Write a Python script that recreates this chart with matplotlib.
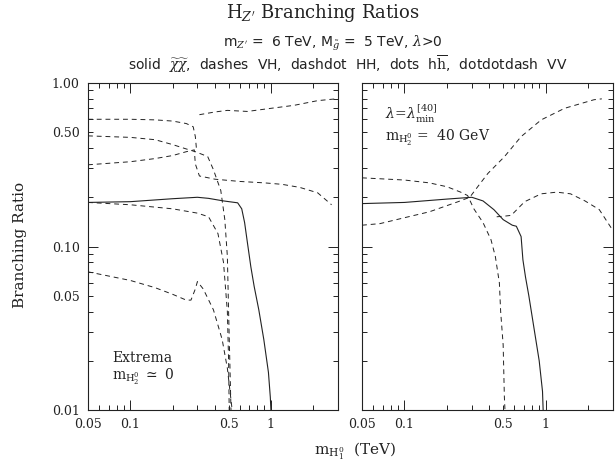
import numpy as np
import matplotlib
matplotlib.use("Agg")
import matplotlib.pyplot as plt
from matplotlib.ticker import FixedLocator, FuncFormatter

plt.rcParams['font.family'] = ['DejaVu Serif']
plt.rcParams['mathtext.fontset'] = 'dejavuserif'

# ---- left panel: extrema, m_H2 ~ 0 (x in TeV, y = branching ratio)
solid_L_x = [0.05, 0.1, 0.2, 0.3, 0.36, 0.46, 0.58, 0.62, 0.65, 0.68, 0.72, 0.76, 0.82, 0.89, 0.96, 0.99, 1.0]
solid_L_y = [0.186, 0.188, 0.196, 0.20, 0.197, 0.19, 0.185, 0.17, 0.14, 0.106, 0.075, 0.057, 0.041, 0.027, 0.017, 0.012, 0.010]

dashA_L_x = [0.05, 0.1, 0.15, 0.2, 0.25, 0.28, 0.29, 0.295]
dashA_L_y = [0.60, 0.60, 0.595, 0.585, 0.565, 0.54, 0.47, 0.40]

dashD_L_x = [0.31, 0.4, 0.49, 0.68, 1.0, 1.46, 2.15, 2.9]
dashD_L_y = [0.64, 0.665, 0.68, 0.67, 0.70, 0.73, 0.78, 0.80]

dashB_L_x = [0.05, 0.1, 0.15, 0.2, 0.25, 0.29, 0.355, 0.39, 0.44, 0.47, 0.49, 0.50, 0.51, 0.52]
dashB_L_y = [0.475, 0.465, 0.45, 0.42, 0.395, 0.38, 0.355, 0.295, 0.22, 0.146, 0.087, 0.04, 0.02, 0.010]

dashC_L_x = [0.05, 0.1, 0.15, 0.2, 0.25, 0.285, 0.29, 0.31, 0.4, 0.6, 0.9, 1.2, 1.6, 2.15, 2.7]
dashC_L_y = [0.316, 0.33, 0.345, 0.36, 0.38, 0.39, 0.32, 0.27, 0.258, 0.25, 0.245, 0.24, 0.23, 0.213, 0.18]

dashE_L_x = [0.05, 0.1, 0.2, 0.3, 0.36, 0.42, 0.46, 0.49, 0.50, 0.505]
dashE_L_y = [0.186, 0.18, 0.17, 0.16, 0.152, 0.12, 0.08, 0.04, 0.02, 0.010]

dashF_L_x = [0.05, 0.1, 0.15, 0.2, 0.25, 0.27, 0.29, 0.30, 0.33, 0.39, 0.45, 0.49, 0.53]
dashF_L_y = [0.07, 0.062, 0.056, 0.051, 0.047, 0.047, 0.055, 0.061, 0.055, 0.041, 0.027, 0.018, 0.010]

# ---- right panel: lambda = lambda_min^[40], m_H2 = 40 GeV
solid_R_x = [0.05, 0.1, 0.2, 0.3, 0.36, 0.43, 0.5, 0.58, 0.62, 0.67, 0.69, 0.72, 0.76, 0.83, 0.9, 0.95, 0.96]
solid_R_y = [0.183, 0.186, 0.195, 0.20, 0.19, 0.168, 0.146, 0.135, 0.133, 0.115, 0.083, 0.065, 0.05, 0.031, 0.02, 0.013, 0.010]

dashG_R_x = [0.05, 0.1, 0.15, 0.2, 0.25, 0.28, 0.31, 0.36, 0.41, 0.44, 0.47, 0.48, 0.50, 0.51, 0.515]
dashG_R_y = [0.263, 0.255, 0.245, 0.232, 0.215, 0.205, 0.17, 0.14, 0.11, 0.087, 0.06, 0.04, 0.025, 0.012, 0.010]

dashH_R_x = [0.05, 0.067, 0.1, 0.15, 0.24, 0.29, 0.34, 0.39, 0.51, 0.67, 0.93, 1.36, 2.2, 2.5]
dashH_R_y = [0.135, 0.138, 0.15, 0.163, 0.188, 0.20, 0.24, 0.28, 0.354, 0.47, 0.595, 0.70, 0.79, 0.80]

dashI_R_x = [0.45, 0.5, 0.57, 0.71, 0.93, 1.2, 1.5, 1.9, 2.4, 3.0]
dashI_R_y = [0.152, 0.153, 0.155, 0.188, 0.21, 0.215, 0.21, 0.19, 0.168, 0.125]

x_major = [0.1, 1.0]
x_minor = [0.05, 0.06, 0.07, 0.08, 0.09, 0.2, 0.3, 0.4, 0.5, 0.6, 0.7, 0.8, 0.9, 2.0, 3.0]
y_major = [0.01, 0.1, 1.0]
y_minor = [0.02, 0.03, 0.04, 0.05, 0.06, 0.07, 0.08, 0.09, 0.2, 0.3, 0.4, 0.5, 0.6, 0.7, 0.8, 0.9]
x_labels = {0.05: '0.05', 0.1: '0.1', 0.5: '0.5', 1.0: '1'}
y_labels = {0.01: '0.01', 0.05: '0.05', 0.1: '0.10', 0.5: '0.50', 1.0: '1.00'}

ink = '#222222'
dash = (0, (5, 4))

fig = plt.figure(figsize=(6.15, 4.67), dpi=100)
axL = fig.add_axes([88 / 615, 1 - 410 / 467, 250 / 615, 327 / 467])
axR = fig.add_axes([362 / 615, 1 - 410 / 467, 251 / 615, 327 / 467])


def pick(d):
    return FuncFormatter(lambda v, p: next((s for k, s in d.items() if abs(v - k) < 1e-6), ''))


for ax in (axL, axR):
    ax.set_xscale('log')
    ax.set_yscale('log')
    ax.set_xlim(0.05, 3.0)
    ax.set_ylim(0.01, 1.0)
    ax.xaxis.set_major_locator(FixedLocator(x_major))
    ax.xaxis.set_minor_locator(FixedLocator(x_minor))
    ax.yaxis.set_major_locator(FixedLocator(y_major))
    ax.yaxis.set_minor_locator(FixedLocator(y_minor))
    ax.xaxis.set_major_formatter(pick(x_labels))
    ax.xaxis.set_minor_formatter(pick(x_labels))
    ax.yaxis.set_major_formatter(pick(y_labels))
    ax.yaxis.set_minor_formatter(pick(y_labels))
    ax.tick_params(which='both', direction='in', top=True, right=True,
                   colors=ink, labelsize=9, width=0.7)
    ax.tick_params(which='major', length=7, pad=6)
    ax.tick_params(which='minor', length=3.5, pad=6)
    for s in ax.spines.values():
        s.set_linewidth(0.8)
        s.set_color(ink)

axR.tick_params(which='both', labelleft=False)

axL.plot(solid_L_x, solid_L_y, color=ink, lw=0.8)
for xs, ys in [(dashA_L_x, dashA_L_y), (dashD_L_x, dashD_L_y), (dashB_L_x, dashB_L_y),
               (dashC_L_x, dashC_L_y), (dashE_L_x, dashE_L_y), (dashF_L_x, dashF_L_y)]:
    axL.plot(xs, ys, color=ink, lw=0.7, linestyle=dash)

axR.plot(solid_R_x, solid_R_y, color=ink, lw=0.8)
for xs, ys in [(dashG_R_x, dashG_R_y), (dashH_R_x, dashH_R_y), (dashI_R_x, dashI_R_y)]:
    axR.plot(xs, ys, color=ink, lw=0.7, linestyle=dash)

# annotations inside panels
axL.text(112 / 615, 1 - 358 / 467, 'Extrema', transform=fig.transFigure,
         fontsize=10, color=ink, va='center', ha='left')
axL.text(112 / 615, 1 - 377 / 467, r'm$_{\mathrm{H}_2^0}$ $\simeq$ 0', transform=fig.transFigure,
         fontsize=10, color=ink, va='center', ha='left')
axR.text(385 / 615, 1 - 114 / 467, r'$\lambda\!=\!\lambda_{\mathrm{min}}^{[40]}$', transform=fig.transFigure,
         fontsize=10, color=ink, va='center', ha='left')
axR.text(385 / 615, 1 - 138 / 467, r'm$_{\mathrm{H}_2^0}$ =  40 GeV', transform=fig.transFigure,
         fontsize=10, color=ink, va='center', ha='left')

# titles
fig.text(323 / 615, 1 - 13 / 467, r"H$_{Z'}$ Branching Ratios", ha='center', va='center',
         fontsize=13, color=ink)
fig.text(333 / 615, 1 - 43 / 467, r"m$_{Z'}$ =  6 TeV, M$_{\tilde{g}}$ =  5 TeV, $\lambda$>0",
         ha='center', va='center', fontsize=10, color=ink, family='DejaVu Sans')
fig.text(348 / 615, 1 - 64 / 467,
         r"solid  $\widetilde{\chi}\widetilde{\chi}$,  dashes  VH,  dashdot  HH,  dots  h$\overline{\mathrm{h}}$,  dotdotdash  VV",
         ha='center', va='center', fontsize=10, color=ink, family='DejaVu Sans')

fig.text(20 / 615, 1 - 245 / 467, 'Branching Ratio', rotation=90, ha='center', va='center',
         fontsize=11, color=ink)
fig.text(355 / 615, 1 - 451 / 467, r'm$_{\mathrm{H}_1^0}$  (TeV)', ha='center', va='center',
         fontsize=11, color=ink)

fig.savefig('out.png', dpi=100, facecolor='white')
